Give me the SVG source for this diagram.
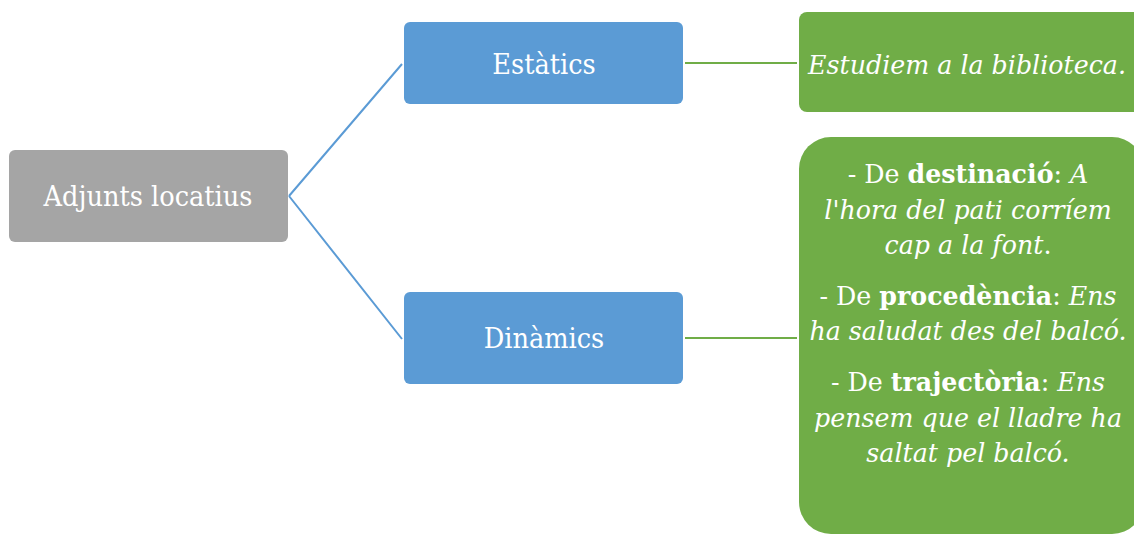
<svg xmlns="http://www.w3.org/2000/svg" width="1134" height="534" viewBox="0 0 1134 534">
<style>
.t{font-family:"DejaVu Serif","Liberation Serif",serif;fill:#fff;text-anchor:middle}
.lbl{font-size:28.5px;font-stretch:condensed}
.g{font-size:25.3px}
.i{font-style:italic}
.b{font-weight:bold}
</style>
<rect width="1134" height="534" fill="#fff"/>
<g id="connectors" fill="none" stroke-width="2">
<path d="M289 196 L402 64 M289 196 L402 339" stroke="#5B9BD5"/>
<path d="M685 63 H797 M685 338 H797" stroke="#70AD47"/>
</g>
<g id="root"><rect x="9" y="150" width="279" height="92" rx="6" fill="#A5A5A5"/><text class="t lbl" x="148" y="206">Adjunts locatius</text></g>
<g id="estatics"><rect x="404" y="22" width="279" height="82" rx="6" fill="#5B9BD5"/><text class="t lbl" x="544" y="74">Estàtics</text></g>
<g id="dinamics"><rect x="404" y="292" width="279" height="92" rx="6" fill="#5B9BD5"/><text class="t lbl" x="544" y="348">Dinàmics</text></g>
<g id="ex-estatics"><rect x="799" y="12" width="345" height="100" rx="8" fill="#70AD47"/><text class="t g i" x="967" y="74">Estudiem a la biblioteca.</text></g>
<g id="ex-dinamics"><rect x="799" y="137" width="345" height="397" rx="32" fill="#70AD47"/>
<text class="t g" x="968" y="183">- De <tspan class="b">destinació</tspan>: <tspan class="i">A</tspan></text>
<text class="t g i" x="968" y="219">l'hora del pati corríem</text>
<text class="t g" x="968" y="254"><tspan class="i">cap a la font</tspan>.</text>
<text class="t g" x="968" y="305">- De <tspan class="b">procedència</tspan>: <tspan class="i">Ens</tspan></text>
<text class="t g i" x="968" y="340">ha saludat des del balcó.</text>
<text class="t g" x="968" y="391">- De <tspan class="b">trajectòria</tspan>: <tspan class="i">Ens</tspan></text>
<text class="t g i" x="968" y="427">pensem que el lladre ha</text>
<text class="t g i" x="968" y="462">saltat pel balcó.</text>
</g>
</svg>
